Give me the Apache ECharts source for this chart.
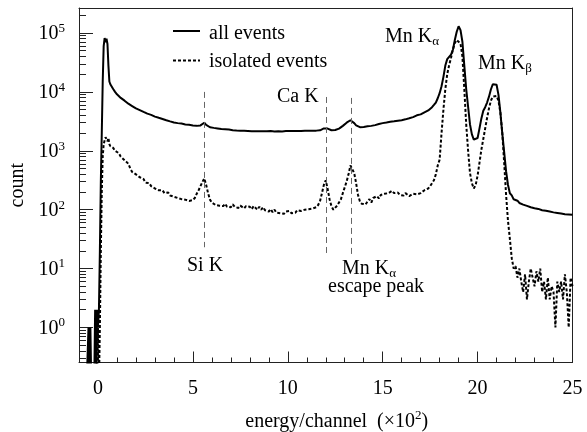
<!DOCTYPE html>
<html><head><meta charset="utf-8">
<script src="https://cdn.jsdelivr.net/npm/echarts@6/dist/echarts.min.js"></script>
<style>html,body{margin:0;padding:0;background:#fff}#c{width:587px;height:432px}</style>
</head><body><div id="c"></div>
<script>
// ---- data (energy in units of 10^2 channels, counts per bin) ----
const energy = [
 -1.0,-0.9,-0.8,-0.7,-0.6,-0.55,-0.5,-0.45,-0.4,-0.35,-0.3,-0.25,-0.2,-0.15,-0.1,-0.05,0,0.05,0.1,0.15,0.2,0.25,0.3,0.35,0.4,0.45,0.5,0.55,0.6,0.65,0.7,
 0.8,0.9,
 1.0,1.1,1.2,1.3,1.4,1.5,1.6,1.7,1.8,1.9,
 2.0,2.1,2.2,2.3,2.4,2.5,2.6,2.7,2.8,2.9,
 3.0,3.1,3.2,3.3,3.4,3.5,3.6,3.7,3.8,3.9,
 4.0,4.1,4.2,4.3,4.4,4.5,4.6,4.7,4.8,4.9,
 5.0,5.1,5.2,5.3,5.4,5.5,5.6,5.7,5.8,5.9,
 6.0,6.1,6.2,6.3,6.4,6.5,6.6,6.7,6.8,6.9,
 7.0,7.1,7.2,7.3,7.4,7.5,7.6,7.7,7.8,7.9,
 8.0,8.1,8.2,8.3,8.4,8.5,8.6,8.7,8.8,8.9,
 9.0,9.1,9.2,9.3,9.4,9.5,9.6,9.7,9.8,9.9,
 10.0,10.1,10.2,10.3,10.4,10.5,10.6,10.7,10.8,10.9,
 11.0,11.1,11.2,11.3,11.4,11.5,11.6,11.7,11.8,11.9,
 12.0,12.1,12.2,12.3,12.4,12.5,12.6,12.7,12.8,12.9,
 13.0,13.1,13.2,13.3,13.4,13.5,13.6,13.7,13.8,13.9,
 14.0,14.1,14.2,14.3,14.4,14.5,14.6,14.7,14.8,14.9,
 15.0,15.1,15.2,15.3,15.4,15.5,15.6,15.7,15.8,15.9,
 16.0,16.1,16.2,16.3,16.4,16.5,16.6,16.7,16.8,16.9,
 17.0,17.1,17.2,17.3,17.4,17.5,17.6,17.7,17.8,17.9,
 18.0,18.1,18.2,18.3,18.4,18.5,18.6,18.7,18.8,18.9,
 19.0,19.1,19.2,19.3,19.4,19.5,19.6,19.7,19.8,19.9,
 20.0,20.1,20.2,20.3,20.4,20.5,20.6,20.7,20.8,20.9,
 21.0,21.1,21.2,21.3,21.4,21.5,21.6,21.7,21.8,21.9,
 22.0,22.1,22.2,22.3,22.4,22.5,22.6,22.7,22.8,22.9,
 23.0,23.1,23.2,23.3,23.4,23.5,23.6,23.7,23.8,23.9,
 24.0,24.1,24.2,24.3,24.4,24.5,24.6,24.7,24.8,24.9,
 25.0
];
const allEvents = [
 0,0,0,0,0,0,1,0,1,0,0,0,0,2,0,2,1,2,20,300,2000,15000,60000,82000,70000,80000,65000,28000,15000,13500,12600,
 11200,10000,
 9100,8500,7900,7400,7100,6600,6300,6000,5750,5500,
 5250,5000,4900,4680,4570,4420,4270,4170,4070,3940,
 3800,3720,3630,3550,3470,3390,3310,3240,3160,3090,
 3020,2990,2950,2880,2900,2820,2800,2750,2760,2700,
 2690,2680,2650,2640,2700,2820,3000,2750,2570,2510,
 2460,2450,2430,2400,2390,2350,2340,2320,2300,2290,
 2260,2240,2250,2210,2220,2190,2200,2180,2160,2170,
 2160,2150,2180,2140,2170,2150,2160,2140,2170,2150,
 2140,2160,2150,2130,2160,2140,2150,2130,2150,2160,
 2140,2160,2150,2170,2150,2160,2180,2160,2170,2190,
 2170,2180,2200,2190,2210,2200,2220,2230,2280,2400,
 2550,2380,2260,2230,2240,2250,2300,2380,2480,2650,
 2800,3000,3150,3300,3250,2950,2700,2580,2520,2530,
 2540,2570,2600,2600,2650,2700,2730,2780,2850,2880,
 2950,2980,3020,3060,3100,3150,3170,3200,3250,3290,
 3300,3350,3420,3500,3570,3650,3730,3850,4000,4100,
 4150,4300,4500,4700,4850,5050,5500,6000,6600,7800,
 9500,12500,18000,28000,36000,38500,43000,52000,76000,105000,
 130000,112000,71000,28000,11200,5600,2800,1900,1550,1500,
 1650,2400,3550,4800,5500,6600,8300,11000,13500,14500,
 13200,8900,4500,2000,950,450,265,190,175,150,
 140,142,130,134,122,125,116,120,110,114,
 106,111,103,106,98,103,96,100,93,97,
 90,95,88,92,86,91,84,89,83,87,
 82
];
const isolatedEvents = [
 0,0,0,0,0,0,0,0,0,0,0,0,0,0,1,0,1,0,1,20,200,800,1300,1500,1700,1800,1450,1650,1300,1200,1260,
 1120,1000,
 955,912,794,759,692,661,603,501,437,417,
 398,380,355,380,331,288,269,282,251,240,
 229,234,214,204,214,191,186,195,174,178,
 166,170,158,162,151,158,148,145,141,151,
 145,158,186,214,251,295,339,263,191,148,
 132,126,120,129,117,123,115,126,112,120,
 110,123,112,115,107,117,112,105,115,110,
 112,102,115,107,100,112,100,110,98,105,
 93,102,91,100,89,95,87,91,85,93,
 89,95,87,93,89,98,91,95,89,100,
 93,102,95,105,100,110,120,141,191,263,
 316,224,151,115,100,107,117,126,151,191,
 240,302,398,562,603,417,282,178,138,126,
 135,123,138,151,132,158,148,170,155,178,
 166,186,174,191,178,209,191,182,195,178,
 186,174,191,182,170,178,186,174,182,195,
 191,204,214,200,229,251,269,316,398,562,
 708,1995,5010,11200,20000,28200,38000,52500,67600,75900,
 79400,66100,39800,11200,2820,1000,417,282,229,263,
 380,631,1050,1585,2400,3630,5250,7080,8300,8900,
 8500,7080,4470,2000,631,180,65,32,15,10,
 11,7,10,6,4,8,3,6,10,7,
 5,9,6,10,4,6,3,7,3,5,
 4,1,6,4,6,3,8,4,1,7,
 5
];
const seriesNames = ['all events', 'isolated events'];
const xMajorTicks = [0, 5, 10, 15, 20, 25];
const xMinorTicks = [1,2,3,4,6,7,8,9,11,12,13,14,16,17,18,19,21,22,23,24];
const yMajorTicks = [1, 10, 100, 1000, 10000, 100000];
const yMinorTicks = [0.3,0.4,0.5,0.6,0.7,0.8,0.9,
  2,3,4,5,6,7,8,9, 20,30,40,50,60,70,80,90, 200,300,400,500,600,700,800,900,
  2000,3000,4000,5000,6000,7000,8000,9000, 20000,30000,40000,50000,60000,70000,80000,90000, 200000];
// reference lines marking peaks: energy, top count, bottom count
const markerEnergy = [5.6, 12.0, 13.35];
const markerTop = [10000, 8200, 7900];
const markerBottom = [23, 17, 16];
const xRange = [-1, 25];
const yRange = [0.254, 266000];
const ZERO_FLOOR = 0.1; // empty bins drawn below the axis floor on the log scale

const F = 'Liberation Serif';
const AX = '#222';
const toPairs = arr => energy.map((e, i) => [e, arr[i] > 0 ? arr[i] : ZERO_FLOOR]);

const chart = echarts.init(document.getElementById('c'), null, {renderer: 'canvas'});
const txt = (text, x, y, size) => ({type: 'text', x: x, y: y, silent: true,
  style: {text: text, fontFamily: F, fontSize: size, fill: '#000', verticalAlign: 'middle', align: 'left'}});
// text with a subscript; y is the centre of the main text
const subTxt = (main, sub, x, y) => ({type: 'text', x: x, y: y - 10, silent: true,
  style: {text: '{a|' + main + '}{b|' + sub + '}', fill: '#000', verticalAlign: 'top', align: 'left',
    rich: {a: {fontFamily: F, fontSize: 20, lineHeight: 20, verticalAlign: 'top', fill: '#000'},
           b: {fontFamily: F, fontSize: 13, lineHeight: 30, verticalAlign: 'middle', fill: '#000'}}}});
const legendLine = (y, dash) => ({type: 'line', silent: true, shape: {x1: 173, y1: y, x2: 200, y2: y},
  style: {stroke: '#000', lineWidth: 2, lineDash: dash}});
const frameAxis = {axisLine: {show: true, onZero: false, lineStyle: {color: AX, width: 1}},
  axisTick: {show: false}, axisLabel: {show: false}, splitLine: {show: false}};
const tickAxis = (len, values) => ({axisLine: {show: false, onZero: false}, axisLabel: {show: false},
  splitLine: {show: false}, axisTick: {show: true, inside: true, length: len, customValues: values, lineStyle: {color: AX, width: 1}}});

chart.setOption({
  animation: false,
  backgroundColor: '#fff',
  grid: {left: 79, right: 14.5, top: 8, bottom: 69.5, containLabel: false, outerBoundsMode: 'none'},
  xAxis: [Object.assign({
    type: 'value', min: xRange[0], max: xRange[1], position: 'bottom',
    name: '{n|energy/channel  (×10}{s|2}{n|)}', nameLocation: 'middle', nameGap: 47,
    nameTextStyle: {padding: [0, 0, 0, 22], rich: {
      n: {fontFamily: F, fontSize: 20, color: '#000', lineHeight: 22, verticalAlign: 'bottom'},
      s: {fontFamily: F, fontSize: 13, color: '#000', lineHeight: 13, verticalAlign: 'top'}}}
  }, tickAxis(11, xMajorTicks), {
    axisLine: {show: true, onZero: false, lineStyle: {color: AX, width: 1}},
    axisLabel: {customValues: xMajorTicks, margin: 16, fontFamily: F, fontSize: 20, color: '#000'}
  }),
  Object.assign({type: 'value', min: xRange[0], max: xRange[1], position: 'bottom'}, tickAxis(5, xMinorTicks)),
  Object.assign({type: 'value', min: xRange[0], max: xRange[1], position: 'top'}, frameAxis)
  ],
  yAxis: [Object.assign({
    type: 'log', min: yRange[0], max: yRange[1], position: 'left',
    name: 'count', nameLocation: 'middle', nameGap: 37,
    nameTextStyle: {fontFamily: F, fontSize: 20, color: '#000'}
  }, tickAxis(14, yMajorTicks), {
    axisLine: {show: true, onZero: false, lineStyle: {color: AX, width: 1}},
    axisLabel: {customValues: yMajorTicks, margin: 14,
      formatter: v => '{b|10}{s|' + Math.round(Math.log10(v)) + '}',
      rich: {
        b: {fontFamily: F, fontSize: 20, color: '#000', lineHeight: 22, verticalAlign: 'bottom'},
        s: {fontFamily: F, fontSize: 13, color: '#000', lineHeight: 13, verticalAlign: 'top'}}}
  }),
  Object.assign({type: 'log', min: yRange[0], max: yRange[1], position: 'left'}, tickAxis(7, yMinorTicks)),
  Object.assign({type: 'log', min: yRange[0], max: yRange[1], position: 'right'}, frameAxis)
  ],
  series: [{
    name: seriesNames[0], type: 'line', xAxisIndex: 0, yAxisIndex: 0,
    data: toPairs(allEvents), symbol: 'none', showSymbol: false, clip: true,
    lineStyle: {color: '#000', width: 2}, itemStyle: {color: '#000'}
  }, {
    name: seriesNames[1], type: 'line', xAxisIndex: 0, yAxisIndex: 0,
    data: toPairs(isolatedEvents), symbol: 'none', showSymbol: false, clip: true,
    lineStyle: {color: '#000', width: 2, type: [3, 2]}, itemStyle: {color: '#000'},
    markLine: {
      silent: true, symbol: 'none', animation: false, label: {show: false},
      lineStyle: {color: '#666', width: 1, type: [6, 4]},
      data: markerEnergy.map((e, i) => [{coord: [e, markerTop[i]]}, {coord: [e, markerBottom[i]]}])
    }
  }],
  graphic: [
    legendLine(31, null), txt(seriesNames[0], 209, 33.5, 20),
    legendLine(60.5, [3, 2]), txt(seriesNames[1], 209, 61.8, 20),
    subTxt('Mn K', 'α', 385, 36.5),
    subTxt('Mn K', 'β', 478, 64),
    txt('Ca K', 277, 97, 20),
    txt('Si K', 187, 265.5, 20),
    subTxt('Mn K', 'α', 342, 268.5),
    txt('escape peak', 328, 286.5, 20)
  ]
});
</script></body></html>
